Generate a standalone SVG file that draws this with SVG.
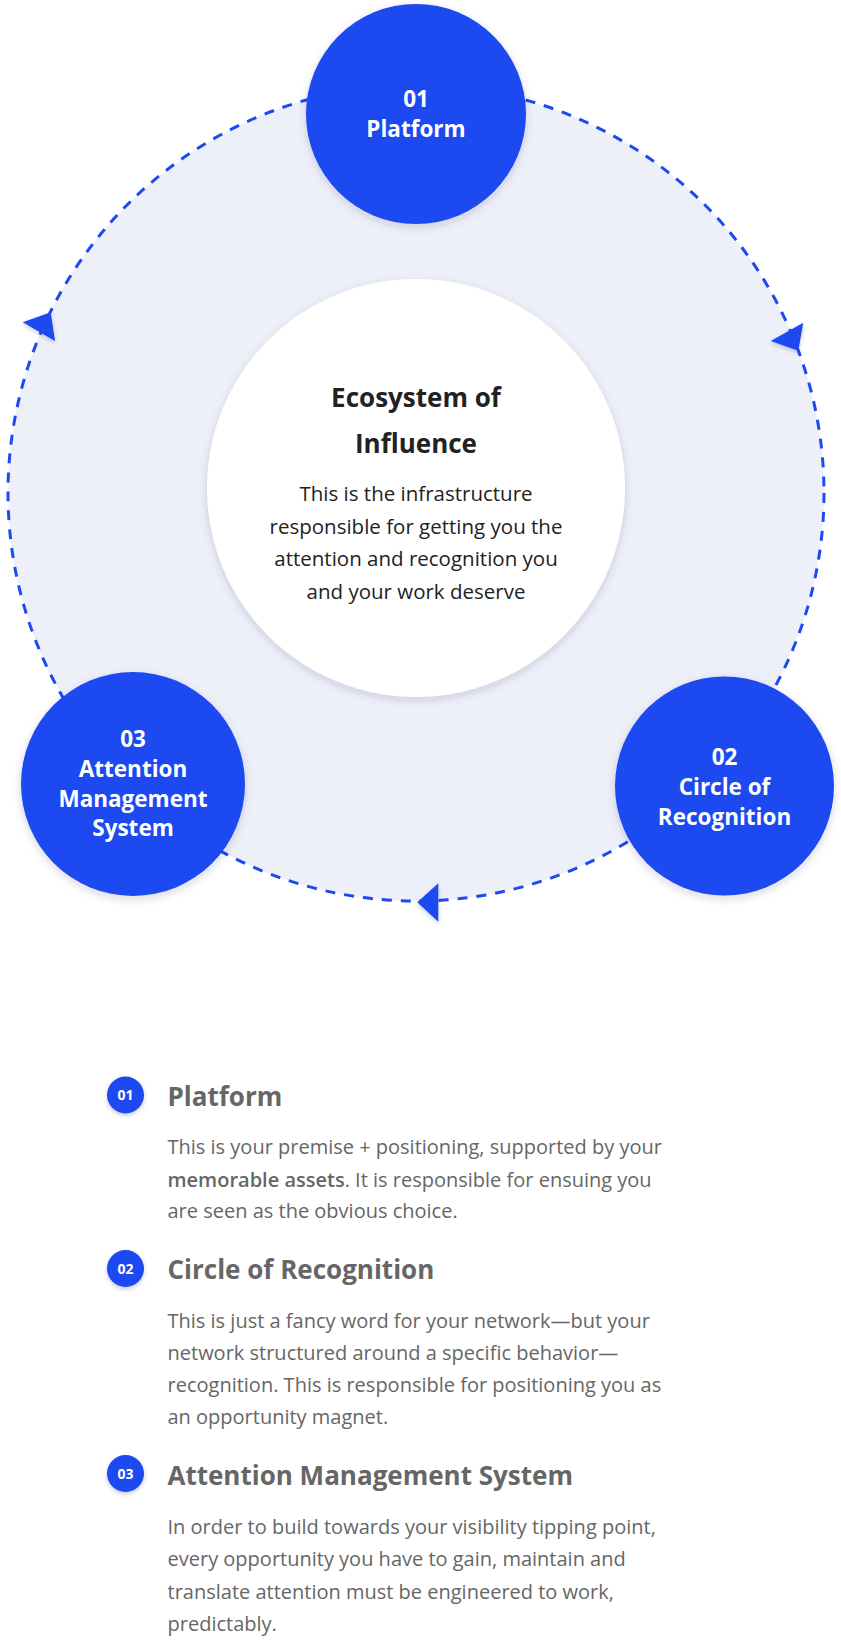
<svg xmlns="http://www.w3.org/2000/svg" width="841" height="1649" viewBox="0 0 841 1649">
<defs>
<filter id="sh" x="-20%" y="-20%" width="140%" height="140%">
<feDropShadow dx="0" dy="3" stdDeviation="4" flood-color="#1a2a60" flood-opacity="0.18"/>
</filter>
<filter id="shs" x="-40%" y="-40%" width="180%" height="180%">
<feDropShadow dx="0" dy="2" stdDeviation="2" flood-color="#1a2a60" flood-opacity="0.25"/>
</filter>
<style>
.node{fill:#1e48f0;filter:url(#sh);}
.ntxt{font-family:"Open Sans",Lato,sans-serif;font-weight:700;font-size:22.5px;fill:#ffffff;text-anchor:middle;}
.ctitle{font-family:"Open Sans",Lato,sans-serif;font-weight:700;font-size:26px;fill:#222222;text-anchor:middle;}
.cbody{font-family:"Open Sans",Lato,sans-serif;font-weight:400;font-size:20.5px;fill:#222222;text-anchor:middle;}
.arrow{fill:#1e48f0;filter:url(#shs);}
.badge{fill:#1e48f0;filter:url(#shs);}
.btxt{font-family:"Open Sans",Lato,sans-serif;font-weight:700;font-size:14px;fill:#ffffff;text-anchor:middle;}
.ltitle{font-family:"Open Sans",Lato,sans-serif;font-weight:700;font-size:26px;fill:#666666;}
.lbody{font-family:"Open Sans",Lato,sans-serif;font-weight:400;font-size:20px;fill:#666666;}
</style>
</defs>
<rect width="841" height="1649" fill="#ffffff"/>
<g id="connectors">
<circle cx="416" cy="493" r="408" fill="#eef0f9" stroke="#1e48f0" stroke-width="3" stroke-dasharray="10 9"/>
<polygon class="arrow" points="22.7,322.3 50.7,312.3 55,341"/>
<polygon class="arrow" points="770.7,341 803.3,322.7 798.3,350.7"/>
<polygon class="arrow" points="417.3,902.3 438.3,883.3 438.3,921.7"/>
</g>
<g id="center">
<circle cx="416" cy="488" r="209" fill="#ffffff" filter="url(#sh)"/>
<text class="ctitle" x="416" y="407">Ecosystem of</text>
<text class="ctitle" x="416" y="453">Influence</text>
<text class="cbody" x="416" y="501">This is the infrastructure</text>
<text class="cbody" x="416" y="533.5">responsible for getting you the</text>
<text class="cbody" x="416" y="566">attention and recognition you</text>
<text class="cbody" x="416" y="598.5">and your work deserve</text>
</g>
<g id="node-01">
<circle class="node" cx="416" cy="114" r="110"/>
<text class="ntxt" x="416" y="107">01</text>
<text class="ntxt" x="416" y="137">Platform</text>
</g>
<g id="node-02">
<circle class="node" cx="724.5" cy="786" r="109.5"/>
<text class="ntxt" x="724.5" y="765">02</text>
<text class="ntxt" x="724.5" y="795">Circle of</text>
<text class="ntxt" x="724.5" y="825">Recognition</text>
</g>
<g id="node-03">
<circle class="node" cx="133" cy="784" r="112"/>
<text class="ntxt" x="133" y="747">03</text>
<text class="ntxt" x="133" y="777">Attention</text>
<text class="ntxt" x="133" y="807">Management</text>
<text class="ntxt" x="133" y="836">System</text>
</g>
<g id="item-01">
<circle class="badge" cx="125.5" cy="1095" r="18.5"/>
<text class="btxt" x="125.5" y="1100">01</text>
<text class="ltitle" x="167.5" y="1105.5">Platform</text>
<text class="lbody" x="167.5" y="1153.5">This is your premise + positioning, supported by your</text>
<text class="lbody" x="167.5" y="1186.5"><tspan font-weight="600">memorable assets</tspan>. It is responsible for ensuing you</text>
<text class="lbody" x="167.5" y="1218">are seen as the obvious choice.</text>
</g>
<g id="item-02">
<circle class="badge" cx="125.5" cy="1268.5" r="18.5"/>
<text class="btxt" x="125.5" y="1273.5">02</text>
<text class="ltitle" x="167.5" y="1278.5">Circle of Recognition</text>
<text class="lbody" x="167.5" y="1327.5">This is just a fancy word for your network—but your</text>
<text class="lbody" x="167.5" y="1359.5">network structured around a specific behavior—</text>
<text class="lbody" x="167.5" y="1392">recognition. This is responsible for positioning you as</text>
<text class="lbody" x="167.5" y="1424">an opportunity magnet.</text>
</g>
<g id="item-03">
<circle class="badge" cx="125.5" cy="1473.5" r="18.5"/>
<text class="btxt" x="125.5" y="1478.5">03</text>
<text class="ltitle" x="167.5" y="1484.5">Attention Management System</text>
<text class="lbody" x="167.5" y="1533.5">In order to build towards your visibility tipping point,</text>
<text class="lbody" x="167.5" y="1566">every opportunity you have to gain, maintain and</text>
<text class="lbody" x="167.5" y="1598.5">translate attention must be engineered to work,</text>
<text class="lbody" x="167.5" y="1631">predictably.</text>
</g>
</svg>
